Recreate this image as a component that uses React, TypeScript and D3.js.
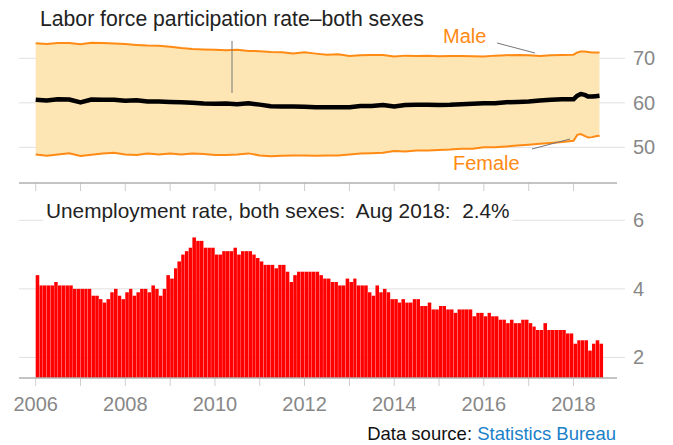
import React, { useEffect, useRef } from 'react';
import * as d3 from 'd3';

// labor force participation, quarterly to 2017 then monthly in 2018
const partDates = [
    '2006-01', '2006-04', '2006-07', '2006-10', '2007-01', '2007-04', '2007-07', '2007-10',
    '2008-01', '2008-04', '2008-07', '2008-10', '2009-01', '2009-04', '2009-07', '2009-10',
    '2010-01', '2010-04', '2010-07', '2010-10', '2011-01', '2011-04', '2011-07', '2011-10',
    '2012-01', '2012-04', '2012-07', '2012-10', '2013-01', '2013-04', '2013-07', '2013-10',
    '2014-01', '2014-04', '2014-07', '2014-10', '2015-01', '2015-04', '2015-07', '2015-10',
    '2016-01', '2016-04', '2016-07', '2016-10', '2017-01', '2017-04', '2017-07', '2017-10',
    '2018-01', '2018-02', '2018-03', '2018-04', '2018-05', '2018-06', '2018-07', '2018-08'
];
const maleRate = [
    73.4, 73.2, 73.45, 73.45, 73.15, 73.5, 73.45, 73.3,
    73.2, 73.0, 72.85, 72.8, 72.6, 72.3, 72.1, 72.0,
    71.9, 71.8, 71.9, 71.65, 71.6, 71.4, 71.35, 71.1,
    71.35, 71.05, 70.8, 70.9, 70.5, 70.7, 70.75, 70.75,
    70.4, 70.6, 70.5, 70.6, 70.45, 70.5, 70.5, 70.45,
    70.4, 70.6, 70.7, 70.75, 70.7, 70.5, 70.7, 70.75,
    70.8, 71.3, 71.5, 71.5, 71.4, 71.3, 71.3, 71.3
];
const femaleRate = [
    48.4, 48.1, 48.4, 48.7, 48.05, 48.35, 48.6, 48.8,
    48.4, 48.3, 48.6, 48.4, 48.65, 48.4, 48.65, 48.5,
    48.3, 48.3, 48.4, 48.65, 48.2, 48.0, 48.1, 48.2,
    48.2, 48.1, 48.2, 48.2, 48.4, 48.6, 48.7, 48.8,
    49.2, 49.1, 49.3, 49.3, 49.4, 49.5, 49.7, 49.7,
    50.0, 50.0, 50.2, 50.4, 50.6, 50.8, 51.0, 51.2,
    51.5, 52.8, 53.0, 52.6, 52.2, 52.3, 52.5, 52.6
];
const bothRate = [
    60.7, 60.5, 60.8, 60.75, 60.1, 60.75, 60.7, 60.7,
    60.45, 60.6, 60.3, 60.3, 60.2, 60.15, 60.0, 59.85,
    59.8, 59.85, 59.7, 59.9, 59.6, 59.25, 59.2, 59.2,
    59.1, 59.0, 59.0, 59.0, 59.0, 59.3, 59.3, 59.5,
    59.2, 59.5, 59.55, 59.55, 59.5, 59.55, 59.7, 59.8,
    59.9, 59.9, 60.15, 60.2, 60.3, 60.5, 60.7, 60.8,
    60.8, 61.6, 62.0, 61.8, 61.4, 61.4, 61.5, 61.6
];

// monthly unemployment rate, Jan 2006 - Aug 2018
const unempStart = '2006-01';
const unempRate = [
    4.4, 4.1, 4.1, 4.1, 4.1, 4.2, 4.1, 4.1, 4.1, 4.1, 4.0, 4.0,
    4.0, 4.0, 4.0, 3.8, 3.8, 3.7, 3.6, 3.7, 3.9, 4.0, 3.8, 3.7,
    3.9, 4.0, 3.8, 3.9, 4.0, 4.0, 3.9, 4.1, 4.0, 3.8, 4.0, 4.4,
    4.3, 4.6, 4.8, 5.0, 5.1, 5.2, 5.5, 5.4, 5.4, 5.2, 5.2, 5.2,
    5.0, 5.0, 5.1, 5.1, 5.1, 5.2, 5.0, 5.1, 5.1, 5.1, 5.0, 4.9,
    4.8, 4.7, 4.7, 4.7, 4.6, 4.7, 4.7, 4.5, 4.2, 4.4, 4.5, 4.5,
    4.5, 4.5, 4.5, 4.5, 4.4, 4.3, 4.3, 4.2, 4.2, 4.1, 4.1, 4.3,
    4.2, 4.3, 4.1, 4.1, 4.1, 3.9, 3.8, 4.1, 3.9, 4.0, 3.9, 3.7,
    3.7, 3.6, 3.7, 3.6, 3.6, 3.7, 3.7, 3.5, 3.5, 3.6, 3.4, 3.4,
    3.5, 3.5, 3.4, 3.4, 3.3, 3.4, 3.4, 3.4, 3.4, 3.2, 3.3, 3.3,
    3.2, 3.3, 3.2, 3.2, 3.1, 3.1, 3.0, 3.1, 3.0, 3.0, 3.1, 3.1,
    3.0, 2.9, 2.8, 2.8, 3.0, 2.8, 2.8, 2.8, 2.8, 2.8, 2.7, 2.7,
    2.4, 2.5, 2.5, 2.5, 2.2, 2.4, 2.5, 2.4
];

const partTicks = [50, 60, 70];
const unempTicks = [2, 4, 6];
const yearTicks = d3.range(2006, 2019);

const orange = '#ff8a14';
const gray = '#888';

const App = () => {
    const svgRef = useRef(null);

    useEffect(() => {
        const svg = d3.select(svgRef.current);
        svg.selectAll('*').remove();

        const parse = d3.timeParse('%Y-%m');
        const x = d3.scaleTime()
            .domain([new Date(2006, 0, 1), new Date(2018, 0, 1)])
            .range([35.7, 573.5]);
        const yTop = d3.scaleLinear().domain([42, 70]).range([183, 58.3]);
        const yBot = d3.scaleLinear().domain([1.4, 6]).range([378, 220.3]);

        const gridX0 = 19, gridX1 = 625, axisX1 = 617;

        // gridlines
        svg.append('g').selectAll('line').data(partTicks).enter().append('line')
            .attr('x1', gridX0).attr('x2', gridX1)
            .attr('y1', d => yTop(d)).attr('y2', d => yTop(d))
            .attr('stroke', '#e0e0e0');
        svg.append('g').selectAll('line').data(unempTicks).enter().append('line')
            .attr('x1', gridX0).attr('x2', gridX1)
            .attr('y1', d => yBot(d)).attr('y2', d => yBot(d))
            .attr('stroke', '#e0e0e0');

        // y labels
        svg.append('g').selectAll('text').data(partTicks).enter().append('text')
            .attr('x', 633).attr('y', d => yTop(d)).attr('dy', '0.35em')
            .attr('font-size', 20).attr('fill', gray).text(d => d);
        svg.append('g').selectAll('text').data(unempTicks).enter().append('text')
            .attr('x', 633).attr('y', d => yBot(d)).attr('dy', '0.35em')
            .attr('font-size', 20).attr('fill', gray).text(d => d);

        // participation band + lines
        const pts = partDates.map((d, i) => ({
            date: parse(d), male: maleRate[i], female: femaleRate[i], both: bothRate[i]
        }));
        svg.append('path')
            .attr('d', d3.area().x(d => x(d.date)).y0(d => yTop(d.female)).y1(d => yTop(d.male))(pts))
            .attr('fill', '#fee6b4');
        const line = key => d3.line().x(d => x(d.date)).y(d => yTop(d[key]))(pts);
        svg.append('path').attr('d', line('male')).attr('fill', 'none')
            .attr('stroke', orange).attr('stroke-width', 2);
        svg.append('path').attr('d', line('female')).attr('fill', 'none')
            .attr('stroke', orange).attr('stroke-width', 2);
        svg.append('path').attr('d', line('both')).attr('fill', 'none')
            .attr('stroke', '#000').attr('stroke-width', 4.5).attr('stroke-linejoin', 'round');

        // unemployment bars
        const start = parse(unempStart);
        svg.append('g').selectAll('rect').data(unempRate).enter().append('rect')
            .attr('x', (d, i) => x(d3.timeMonth.offset(start, i)))
            .attr('width', (d, i) => x(d3.timeMonth.offset(start, i + 1)) - x(d3.timeMonth.offset(start, i)) - 0.25)
            .attr('y', d => yBot(d))
            .attr('height', d => yBot(1.4) - yBot(d))
            .attr('fill', '#ff0000');

        // x axes
        [183, 378].forEach(y0 => {
            svg.append('g').selectAll('line').data(yearTicks).enter().append('line')
                .attr('x1', d => x(new Date(d, 0, 1))).attr('x2', d => x(new Date(d, 0, 1)))
                .attr('y1', y0).attr('y2', y0 + 8)
                .attr('stroke', '#cfcfcf');
            svg.append('line')
                .attr('x1', gridX0).attr('x2', axisX1).attr('y1', y0).attr('y2', y0)
                .attr('stroke', '#b0b0b0').attr('stroke-width', 1.5);
        });
        svg.append('g').selectAll('text').data(yearTicks.filter(d => d % 2 === 0)).enter().append('text')
            .attr('x', d => x(new Date(d, 0, 1))).attr('y', 410.5)
            .attr('text-anchor', 'middle').attr('font-size', 20).attr('fill', gray)
            .text(d => d);

        // titles and annotations
        svg.append('text').attr('x', 40).attr('y', 26).attr('font-size', 21.2).attr('fill', '#222')
            .text('Labor force participation rate\u2013both sexes');
        svg.append('line').attr('x1', 232).attr('x2', 232).attr('y1', 41).attr('y2', 93)
            .attr('stroke', '#777');

        svg.append('text').attr('x', 443).attr('y', 43).attr('font-size', 20).attr('fill', orange).text('Male');
        svg.append('line').attr('x1', 497).attr('y1', 43).attr('x2', 535).attr('y2', 53).attr('stroke', '#777');
        svg.append('text').attr('x', 453).attr('y', 170).attr('font-size', 20).attr('fill', orange).text('Female');
        svg.append('line').attr('x1', 532).attr('y1', 149).attr('x2', 570).attr('y2', 139).attr('stroke', '#777');

        const bg = svg.append('rect').attr('fill', '#fff');
        const t2 = svg.append('text').attr('x', 46).attr('y', 217.5).attr('font-size', 20.8).attr('fill', '#222')
            .style('white-space', 'pre')
            .text('Unemployment rate, both sexes:  Aug 2018:  2.4%');
        const bb = t2.node().getBBox();
        bg.attr('x', bb.x - 3).attr('y', bb.y).attr('width', bb.width + 6).attr('height', bb.height + 2);

        const src = svg.append('text').attr('x', 616).attr('y', 440).attr('text-anchor', 'end')
            .attr('font-size', 18.5).attr('fill', '#111');
        src.append('tspan').text('Data source: ');
        src.append('tspan').attr('fill', '#1a80c8').text('Statistics Bureau');
    }, []);

    return (
        <svg ref={svgRef} width={673} height={445}
            style={{ position: 'absolute', left: 0, top: 0, fontFamily: '"Liberation Sans", Arial, Helvetica, sans-serif' }}>
        </svg>
    );
};

export default App;
